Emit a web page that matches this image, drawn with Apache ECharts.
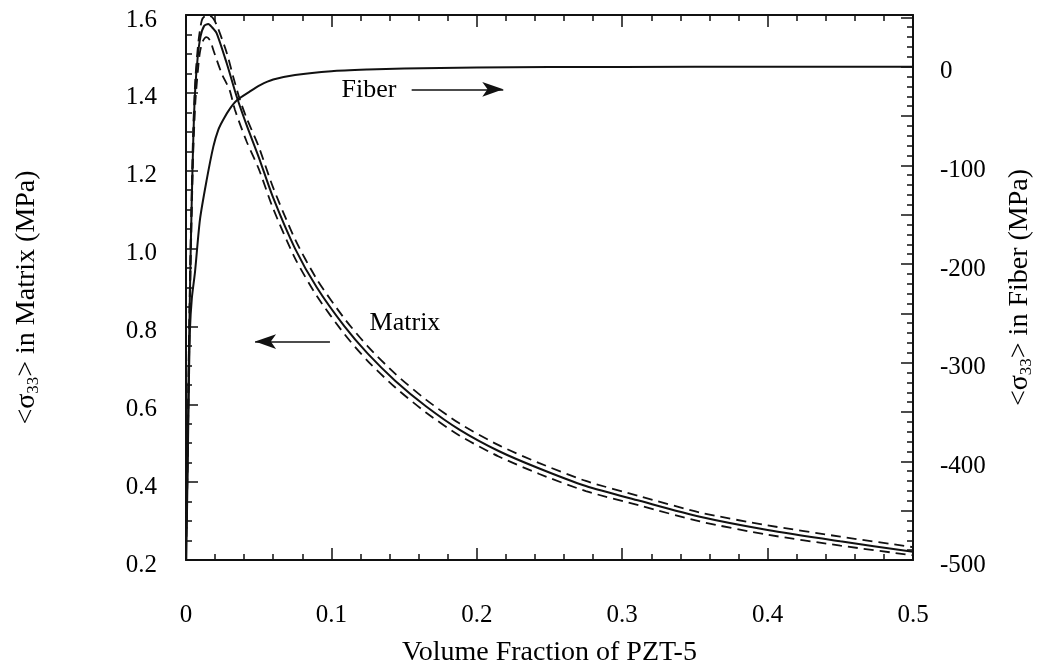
<!DOCTYPE html>
<html><head><meta charset="utf-8">
<script src="https://cdn.jsdelivr.net/npm/echarts@6/dist/echarts.min.js"></script>
<style>html,body{margin:0;padding:0;background:#fff}#c{width:1043px;height:663px}</style>
</head><body><div id="c"></div>
<script>
// ---- tick labels ----
const xTickLabels = ['0','0.1','0.2','0.3','0.4','0.5'];
const leftTickLabels = ['0.2','0.4','0.6','0.8','1.0','1.2','1.4','1.6'];
const rightTickLabels = ['-500','-400','-300','-200','-100','0'];

// ---- series values ----
const matrixSolidX = [0.0003,0.001,0.002,0.003,0.004,0.005,0.0062,0.008,0.010,0.0125,0.0153,0.018,0.0211,0.028,0.0349,0.0417,0.05,0.06,0.075,0.09,0.109,0.125,0.144,0.165,0.188,0.215,0.243,0.275,0.312,0.3535,0.4,0.45,0.5];
const matrixSolidY = [0.28,0.45,0.72,0.95,1.13,1.28,1.40,1.49,1.545,1.572,1.577,1.568,1.553,1.476,1.390,1.317,1.235,1.13,1.0,0.90,0.80,0.73,0.66,0.595,0.535,0.48,0.435,0.39,0.352,0.311,0.277,0.248,0.221];

const matrixUpperX = [0.0003,0.001,0.002,0.003,0.004,0.005,0.0065,0.0085,0.0108,0.013,0.016,0.019,0.0221,0.0281,0.0325,0.0371,0.0417,0.05,0.06,0.075,0.09,0.109,0.125,0.144,0.165,0.188,0.215,0.243,0.275,0.312,0.3535,0.4,0.45,0.5];
const matrixUpperY = [0.30,0.47,0.75,0.98,1.16,1.31,1.44,1.53,1.585,1.597,1.598,1.59,1.565,1.502,1.441,1.382,1.335,1.262,1.156,1.024,0.921,0.82,0.749,0.678,0.612,0.551,0.495,0.449,0.403,0.364,0.322,0.289,0.26,0.233];

const matrixLowerX = [0.0003,0.001,0.002,0.003,0.004,0.005,0.0065,0.0085,0.0096,0.0115,0.014,0.0165,0.0188,0.0245,0.030,0.0337,0.0417,0.05,0.06,0.075,0.09,0.109,0.125,0.144,0.165,0.188,0.215,0.243,0.275,0.312,0.3535,0.4,0.45,0.5];
const matrixLowerY = [0.26,0.43,0.69,0.92,1.10,1.25,1.38,1.47,1.505,1.532,1.543,1.535,1.51,1.45,1.407,1.356,1.275,1.205,1.102,0.975,0.878,0.78,0.711,0.643,0.579,0.52,0.466,0.421,0.377,0.34,0.299,0.265,0.237,0.212];

const fiberX = [0.0002,0.001,0.002,0.0027,0.004,0.0062,0.0096,0.0142,0.0188,0.0222,0.0255,0.030,0.035,0.044,0.051,0.06,0.075,0.1,0.125,0.15,0.2,0.25,0.3,0.4,0.5];
const fiberY = [-500,-420,-320,-267,-235,-208,-155,-115,-81,-64,-54,-43,-34,-25,-18.6,-13,-8.4,-4.5,-2.8,-1.8,-0.8,-0.4,-0.2,0,0];

// ---- annotations (data coordinates, left axis) ----
const annotationTexts = ['Fiber', 'Matrix'];
const annotationAt = [[0.1259, 1.407], [0.1506, 0.809]];
const arrowFrom = [[0.1552, 1.409], [0.0990, 0.761]];
const arrowTo = [[0.2182, 1.409], [0.0475, 0.761]];

const zip = (xs, ys) => xs.map((x, i) => [x, ys[i]]);
const pick = (labels, wrap) => v => {
  const m = labels.find(s => Math.abs(parseFloat(s) - v) < 1e-6);
  if (m === undefined) return '';
  return wrap ? '{t|' + m + '}' : m;
};

const FONT = "'Liberation Serif', 'Times New Roman', serif";
const INK = '#111';
const axisLine = { show: true, onZero: false, lineStyle: { color: INK, width: 2 } };
const tick = { show: true, inside: true, length: 12, lineStyle: { color: INK, width: 1.5 } };
const minor = n => ({ show: true, splitNumber: n, length: 6, lineStyle: { color: INK, width: 1.5 } });
const labelStyle = { color: '#000', fontSize: 25, fontFamily: FONT };
const shiftedLabel = { t: { color: '#000', fontSize: 25, fontFamily: FONT, padding: [10, 0, 0, 0] } };
const subStyle = { sub: { fontSize: 17, fontFamily: FONT, color: '#000', padding: [14, 0, 0, 0] } };

const chart = echarts.init(document.getElementById('c'), null, { renderer: 'canvas' });
chart.setOption({
  backgroundColor: '#fff',
  animation: false,
  grid: { left: 186, right: 130, top: 15, bottom: 103, containLabel: false, outerBoundsMode: 'none' },
  xAxis: [
    {
      type: 'value', min: 0, max: 0.5, interval: 0.1, position: 'bottom',
      axisLine, axisTick: tick, minorTick: minor(5),
      splitLine: { show: false },
      axisLabel: Object.assign({ margin: 43, formatter: pick(xTickLabels, false) }, labelStyle),
      name: 'Volume Fraction of PZT-5', nameLocation: 'middle', nameGap: 79,
      nameTextStyle: { color: '#000', fontSize: 28, fontFamily: FONT }
    },
    {
      type: 'value', min: 0, max: 0.5, interval: 0.1, position: 'top',
      axisLine, axisTick: tick, minorTick: minor(5),
      splitLine: { show: false }, axisLabel: { show: false }
    }
  ],
  yAxis: [
    {
      type: 'value', min: 0.2, max: 1.6, interval: 0.2, position: 'left',
      axisLine, axisTick: tick, minorTick: minor(4),
      splitLine: { show: false },
      axisLabel: Object.assign({ margin: 29, formatter: pick(leftTickLabels, true), rich: shiftedLabel }, labelStyle),
      name: '<σ{sub|33}> in Matrix (MPa)', nameLocation: 'middle', nameGap: 144, nameRotate: 90,
      nameTextStyle: { color: '#000', fontSize: 28, fontFamily: FONT, padding: [0, 20, 0, 0], rich: subStyle }
    },
    {
      type: 'value', min: -500, max: 52.4, interval: 50, position: 'right',
      axisLine, axisTick: tick, minorTick: minor(5),
      splitLine: { show: false },
      axisLabel: Object.assign({ margin: 27, formatter: pick(rightTickLabels, true), rich: shiftedLabel }, labelStyle),
      name: '<σ{sub|33}> in Fiber (MPa)', nameLocation: 'middle', nameGap: 91, nameRotate: 90,
      nameTextStyle: { color: '#000', fontSize: 28, fontFamily: FONT, rich: subStyle }
    }
  ],
  series: [
    {
      name: 'Matrix', type: 'line', xAxisIndex: 0, yAxisIndex: 0,
      data: zip(matrixSolidX, matrixSolidY), smooth: 0.25, showSymbol: false,
      lineStyle: { color: INK, width: 2 },
      markPoint: {
        silent: true, symbol: 'circle', symbolSize: 1,
        itemStyle: { color: 'rgba(0,0,0,0)' },
        label: { show: true, position: 'inside', formatter: '{b}', color: '#000', fontSize: 26, fontFamily: FONT },
        data: annotationTexts.map((t, i) => ({ name: t, coord: annotationAt[i] }))
      },
      markLine: {
        silent: true, symbol: ['none', 'arrow'], symbolSize: [11, 21],
        lineStyle: { color: INK, width: 1.5, type: 'solid' },
        itemStyle: { color: INK },
        label: { show: false },
        data: arrowFrom.map((f, i) => [{ coord: f }, { coord: arrowTo[i] }])
      }
    },
    {
      name: 'Matrix upper', type: 'line', xAxisIndex: 0, yAxisIndex: 0,
      data: zip(matrixUpperX, matrixUpperY), smooth: 0.25, showSymbol: false,
      lineStyle: { color: INK, width: 1.8, type: [10, 6] }
    },
    {
      name: 'Matrix lower', type: 'line', xAxisIndex: 0, yAxisIndex: 0,
      data: zip(matrixLowerX, matrixLowerY), smooth: 0.25, showSymbol: false,
      lineStyle: { color: INK, width: 1.8, type: [10, 6] }
    },
    {
      name: 'Fiber', type: 'line', xAxisIndex: 0, yAxisIndex: 1,
      data: zip(fiberX, fiberY), smooth: 0.25, showSymbol: false,
      lineStyle: { color: INK, width: 2 }
    }
  ]
});
</script></body></html>
